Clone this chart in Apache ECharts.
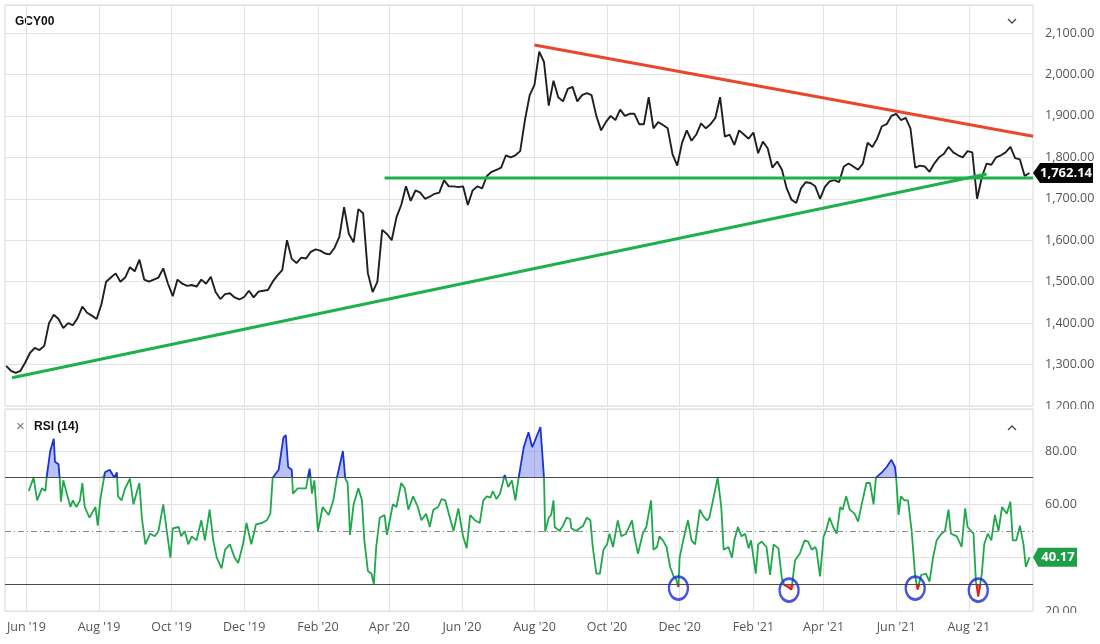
<!DOCTYPE html>
<html><head><meta charset="utf-8">
<script src="https://cdn.jsdelivr.net/npm/echarts@6/dist/echarts.min.js"></script>
<style>html,body{margin:0;padding:0;background:#fff}#chart{width:1100px;height:644px}</style>
</head><body><div id="chart"></div>
<script>
// ---------- DATA ----------
const axisStart = '2019-05-14';
const axisEnd = '2021-09-24';
const symbolName = 'GCY00';
const rsiTitle = 'RSI (14)';
const monthNames = ['Jan','Feb','Mar','Apr','May','Jun','Jul','Aug','Sep','Oct','Nov','Dec'];

// gold cash price, one reading every 4 calendar days from priceStart
const priceStart = '2019-05-15';
const priceStepDays = 4;
const priceClose = [
  1297,1285,1280,1285,1305,
  1328,1340,1335,1345,1400,1420,1410,
  1388,1400,1395,1412,1440,1425,1418,1410,
  1445,1500,1510,1520,1500,1510,1535,1525,
  1553,1505,1500,1505,1510,1532,1495,
  1465,1505,1495,1490,1492,1488,1505,1495,
  1512,1475,1458,1470,1472,1462,1457,
  1463,1478,1462,1476,1478,1480,1500,1515,
  1528,1600,1555,1545,1558,1556,1572,1578,
  1575,1568,1566,1582,1608,1680,1615,
  1595,1675,1665,1520,1475,1500,1625,1615,
  1600,1655,1685,1730,1695,1720,1715,
  1700,1705,1712,1715,1745,1730,1730,1728,
  1730,1685,1720,1730,1725,1755,1765,1770,
  1775,1805,1800,1805,1815,1890,1950,
  1975,2055,2030,1925,1985,1945,1935,1965,
  1970,1935,1950,1955,1950,1900,1865,1885,
  1900,1890,1915,1900,1905,1905,1880,
  1880,1945,1870,1885,1878,1870,1808,1780,
  1835,1865,1840,1855,1882,1870,1880,1895,
  1945,1850,1855,1830,1865,1855,1845,
  1860,1810,1838,1822,1775,1790,1770,
  1725,1698,1690,1725,1740,1738,1730,1700,
  1728,1742,1745,1740,1778,1785,1778,1770,
  1785,1835,1825,1845,1875,1880,1900,
  1905,1890,1895,1870,1775,1780,1778,1765,
  1785,1800,1808,1825,1812,1805,1800,1815,
  1812,1700,1752,1785,1782,1800,1805,
  1812,1825,1798,1795,1755,1762.14
];

// RSI(14): day = days after axisStart
const rsiDay = [20,24,27,31,34,35,38,41,42,45,46,47,49,52,55,57,60,63,65,67,71,76,78,80,84,88,92,94,95,98,101,105,108,111,113,115,118,122,126,129,133,136,139,141,146,148,151,154,157,161,165,168,172,175,178,182,185,189,193,196,200,203,207,211,216,220,223,225,230,234,236,238,241,242,246,251,253,256,258,260,263,267,272,276,279,281,284,286,288,290,293,297,300,302,305,308,310,312,315,319,321,326,329,333,336,339,343,347,350,354,357,360,364,367,370,373,377,381,385,388,391,395,399,402,405,408,410,413,416,420,423,426,429,431,433,436,440,443,445,450,452,453,454,457,459,461,462,466,469,472,475,476,480,483,486,489,492,494,497,500,503,506,508,511,515,518,522,527,529,532,536,539,543,545,548,550,553,556,559,562,564,566,567,570,574,577,580,584,587,590,592,595,599,602,604,608,611,613,616,619,622,625,627,631,633,636,640,643,646,650,653,655,658,661,664,668,672,675,678,681,682,685,688,690,693,696,699,702,704,707,710,714,717,720,724,727,730,732,737,741,745,748,749,751,753,756,759,762,765,767,770,774,777,780,783,787,790,793,795,800,804,807,809,814,816,818,821,823,826,829,832,835,838,842,845,847,850,853,856,858,861];
const rsiValue = [65,70,61.5,66,65,70,80,84.6,76,75,69.6,61,69,64,59,61.5,59,61.5,68,59,55,59,52,61.5,72,73,70,72,63,61.5,66,69.6,60,65,68,55,45,49,48,50,60,50,40,51,51.5,48,50,45,48,46.5,54,46.5,58,46.5,40,36,43,45,40,38,45,53,45,52.5,53,54,56.5,70,73,85,86,74,73,64,66,66,66,73.4,64,69,50,59,56,61.5,70,74,80,69.6,68,48.5,60,66,61.5,46.5,35,34,30,44,55,56,48.5,60,59,68,66,58,63,59,54,56.5,51.5,58,59,62,61.5,56.5,50,58.5,48,43.5,56,54,53,61.5,63,62.5,65,62,64,71,66.5,69,61.5,68,73.4,81.5,87,81.5,83.4,89,76.5,70,49.7,55,56,61.5,51.5,50,52,55,54.5,51,50,51,52,55,54,44,34,34,43,45,49,44,54,48,49,54,48,41.5,49,51.5,61.5,43,44,48,46.5,44,36.5,33,32,29,40,46.5,54,46.5,45,58,55.5,54,55,61.5,70,59,43,44,40,46.5,51.5,48,49,43.5,46.5,34,45,46,44,33.5,45,43.5,32,29.7,29,28,39,41.5,46.5,46,43,44,43,33,48,50,55,51.5,49,59,58,63,58,56.5,53.5,60,68,68,60,70,72,74,76.7,74,70,56,63,61.5,61.5,50,33,28,33.5,34,31,40,46.5,49,50,58,49,48,44,58.5,51.5,49,31,25.4,34,45,49,46.5,56,50,59,56.5,61,46.5,46.5,52,45,36.5,40.17];

const rsiUpper = 70, rsiMid = 50, rsiLower = 30;

// hand-drawn annotations (date, price)
const supportLine = [['2019-05-20', 1268], ['2021-08-16', 1760]];
const levelLine = [['2020-03-28', 1750], ['2021-09-24', 1750]];
const levelLabel = '$1750';
const resistanceLine = [['2020-08-01', 2071], ['2021-09-24', 1851]];
const oversoldMarks = [['2020-11-30', 28.6], ['2021-03-03', 27.8], ['2021-06-17', 28.6], ['2021-08-09', 27.8]];

// ---------- BUILD ----------
const DAY = 86400000;
function utc(s){ const p = s.split('-').map(Number); return Date.UTC(p[0], p[1]-1, p[2]); }
const t0 = utc(axisStart);
const nDays = Math.round((utc(axisEnd) - t0) / DAY) + 1;
const categories = [];
for (let i = 0; i < nDays; i++) categories.push(new Date(t0 + i * DAY).toISOString().slice(0, 10));
const idx = s => Math.round((utc(s) - t0) / DAY);
const isMonthTick = i => { const c = categories[i]; return c.slice(8) === '01' && (+c.slice(5, 7)) % 2 === 0; };
const monthLabel = v => monthNames[+v.slice(5, 7) - 1] + " '" + v.slice(2, 4);

const p0 = idx(priceStart);
const priceData = priceClose.map((v, i) => [p0 + i * priceStepDays, v]);
const lastClose = priceClose[priceClose.length - 1];
const rsiData = rsiDay.map((d, i) => [d, rsiValue[i]]);
const lastRsi = rsiValue[rsiValue.length - 1];
const obData = rsiDay.map((d, i) => [d, Math.max(rsiValue[i], rsiUpper)]);
const osData = rsiDay.map((d, i) => [d, Math.min(rsiValue[i], rsiLower)]);
const toPts = arr => arr.map(p => [idx(p[0]), p[1]]);

const fmtPrice = v => v.toLocaleString('en-US', {minimumFractionDigits: 2, maximumFractionDigits: 2});
const tagPath = 'path://M0,10L7,0L60,0L60,20L7,20Z';
const ellipsePath = 'path://M0,-1A1,1 0 1 1 0,1A1,1 0 1 1 0,-1Z';

const gridLine = {show: true, lineStyle: {color: '#e2e2e2', width: 1}};
const xCommon = {
  type: 'category', data: categories, boundaryGap: false,
  axisLine: {show: false}, axisTick: {show: false},
  splitLine: {show: true, interval: (i) => isMonthTick(i), lineStyle: {color: '#e2e2e2'}}
};

const chart = echarts.init(document.getElementById('chart'), null, {renderer: 'canvas'});
chart.setOption({
  animation: false,
  textStyle: {fontFamily: '"Open Sans", "Noto Sans", sans-serif'},
  grid: [
    {left: 5, right: 67, top: 5, height: 401, show: true, borderColor: '#d8d8d8', borderWidth: 1},
    {left: 5, right: 67, top: 409, height: 202, show: true, borderColor: '#d8d8d8', borderWidth: 1}
  ],
  xAxis: [
    Object.assign({gridIndex: 0, axisLabel: {show: false}}, xCommon),
    Object.assign({gridIndex: 1, axisLabel: {show: true, interval: (i) => isMonthTick(i), formatter: monthLabel, color: '#555', fontSize: 12.5, margin: 10}}, xCommon)
  ],
  yAxis: [
    {gridIndex: 0, type: 'value', position: 'right', min: 1200, max: 1200 + 401 / (373 / 900), interval: 100,
     axisLine: {show: false}, axisTick: {show: false}, splitLine: gridLine,
     axisLabel: {color: '#555', fontSize: 12.5, margin: 12, formatter: v => (Math.abs(v % 100) < 1e-6 ? fmtPrice(v) : '')}},
    {gridIndex: 1, type: 'value', position: 'right', min: 20, max: 95.75, interval: 20,
     axisLine: {show: false}, axisTick: {show: false}, splitLine: gridLine,
     axisLabel: {color: '#555', fontSize: 12.5, margin: 12, formatter: v => ([20, 60, 80].indexOf(v) >= 0 ? v.toFixed(2) : '')}}
  ],
  visualMap: [{
    type: 'piecewise', show: false, seriesIndex: 6, dimension: 1,
    pieces: [{lt: rsiLower, color: '#e01b1b'}, {gte: rsiLower, lte: rsiUpper, color: '#1ea84a'}, {gt: rsiUpper, color: '#1c32d6'}]
  }],
  series: [
    {name: 'price', type: 'line', xAxisIndex: 0, yAxisIndex: 0, data: priceData, showSymbol: false, clip: false,
     lineStyle: {color: '#1f1f1f', width: 1.9}, itemStyle: {color: '#1f1f1f'}, silent: true,
     markPoint: {symbol: tagPath, symbolSize: [60, 20], symbolKeepAspect: false, symbolOffset: [30, 0], silent: true,
       itemStyle: {color: '#050505'},
       label: {show: true, position: 'inside', offset: [3, 0], color: '#fff', fontWeight: 'bold', fontSize: 13, formatter: () => fmtPrice(lastClose)},
       data: [{coord: [nDays - 1, lastClose]}]}},
    {name: 'support', type: 'line', xAxisIndex: 0, yAxisIndex: 0, data: toPts(supportLine), showSymbol: false, z: 3, silent: true,
     lineStyle: {color: '#1db04b', width: 3}},
    {name: 'level', type: 'line', xAxisIndex: 0, yAxisIndex: 0, z: 3, silent: true,
     data: toPts(levelLine).map((p, i) => i === 0 ? {value: p, label: {show: true, position: 'left', distance: 7, formatter: levelLabel, fontSize: 24, color: '#111'}} : p),
     symbol: 'circle', symbolSize: 1, showSymbol: true, itemStyle: {color: 'rgba(0,0,0,0)'},
     lineStyle: {color: '#1db04b', width: 3}},
    {name: 'resistance', type: 'line', xAxisIndex: 0, yAxisIndex: 0, data: toPts(resistanceLine), showSymbol: false, z: 3, silent: true,
     lineStyle: {color: '#e8472b', width: 3}},
    {name: 'overbought', type: 'line', xAxisIndex: 1, yAxisIndex: 1, data: obData, showSymbol: false, silent: true,
     lineStyle: {width: 0, opacity: 0}, areaStyle: {origin: rsiUpper, color: 'rgba(70,95,230,0.55)'}},
    {name: 'oversold', type: 'line', xAxisIndex: 1, yAxisIndex: 1, data: osData, showSymbol: false, silent: true,
     lineStyle: {width: 0, opacity: 0}, areaStyle: {origin: rsiLower, color: 'rgba(225,25,25,0.95)'}},
    {name: 'rsi', type: 'line', xAxisIndex: 1, yAxisIndex: 1, data: rsiData, showSymbol: false, clip: false, silent: true, z: 3,
     lineStyle: {width: 1.8},
     markLine: {silent: true, symbol: ['none', 'none'], label: {show: false},
       data: [
         {yAxis: rsiUpper, lineStyle: {color: '#4a4a4a', width: 1, type: 'solid'}},
         {yAxis: rsiLower, lineStyle: {color: '#4a4a4a', width: 1, type: 'solid'}},
         {yAxis: rsiMid, lineStyle: {color: '#8a8a8a', width: 1, type: [6, 3, 1, 3]}}
       ]},
     markPoint: {symbol: tagPath, symbolSize: [44, 19], symbolKeepAspect: false, symbolOffset: [22, 0], silent: true,
       itemStyle: {color: '#1f9e48'},
       label: {show: true, position: 'inside', offset: [3, 0], color: '#fff', fontWeight: 'bold', fontSize: 13, formatter: () => lastRsi.toFixed(2)},
       data: [{coord: [nDays - 1, lastRsi]}]}},
    {name: 'marks', type: 'scatter', xAxisIndex: 1, yAxisIndex: 1, data: toPts(oversoldMarks), z: 5, silent: true,
     symbol: ellipsePath, symbolSize: [19, 23], symbolKeepAspect: false,
     itemStyle: {color: 'rgba(0,0,0,0)', borderColor: '#1a2bd4', borderWidth: 2.5}}
  ],
  graphic: [
    {type: 'text', left: 15, top: 16, style: {text: symbolName, font: 'bold 12px "Liberation Sans", Arial, sans-serif', fill: '#111'}},
    {type: 'polyline', shape: {points: [[1008, 19], [1012, 23], [1016, 19]]}, style: {stroke: '#444', lineWidth: 1.3, fill: 'none'}},
    {type: 'text', left: 16, top: 419, style: {text: '×', font: '15px "Liberation Sans", Arial, sans-serif', fill: '#777'}},
    {type: 'text', left: 34, top: 421, style: {text: rsiTitle, font: 'bold 12px "Liberation Sans", Arial, sans-serif', fill: '#111'}},
    {type: 'polyline', shape: {points: [[1008, 430], [1012, 426], [1016, 430]]}, style: {stroke: '#444', lineWidth: 1.3, fill: 'none'}},
    {type: 'rect', z: 100, shape: {x: 1034, y: 409, width: 66, height: 8}, style: {fill: '#fff'}},
    {type: 'rect', z: 100, shape: {x: 1034, y: 613, width: 66, height: 8}, style: {fill: '#fff'}}
  ]
});
</script>
</body></html>
